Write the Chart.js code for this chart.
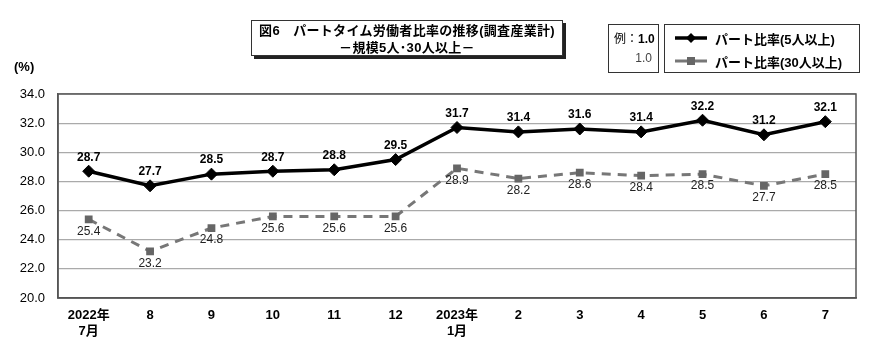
<!DOCTYPE html>
<html>
<head>
<meta charset="utf-8">
<script src="https://cdn.jsdelivr.net/npm/chart.js@4"></script>
<style>
  body { margin: 0; background: #fff; }
  #wrap { position: relative; width: 890px; height: 362px; font-family: "Liberation Sans", Arial, "Noto Sans CJK JP", sans-serif; }
  canvas { position: absolute; left: 0; top: 0; }
  .box { position: absolute; border: 1px solid #333; background: #fff; color: #000; }
  #title { left: 251px; top: 20px; width: 312px; height: 36px; box-shadow: 3px 3px 0 #222;
    font-size: 13px; font-weight: bold; text-align: center; line-height: 17px; padding-top: 1px; box-sizing: border-box; letter-spacing: 0.3px; }
  #rei { left: 608px; top: 24px; width: 51px; height: 49px; font-size: 12px; box-sizing: border-box; }
  #legend { left: 664px; top: 24px; width: 196px; height: 49px; font-size: 13px; font-weight: bold; box-sizing: border-box; }
  .pct { position: absolute; left: 14px; top: 59px; font-size: 13px; font-weight: bold; }
</style>
</head>
<body>
<div id="wrap">
  <canvas id="grafico" width="890" height="362"></canvas>
  <div class="box" id="title">図6　パートタイム労働者比率の推移(調査産業計)<br>－規模5人･30人以上－</div>
  <div class="box" id="rei">
    <div style="position:absolute;left:5px;top:4px;">例：<b>1.0</b></div>
    <div style="position:absolute;right:6px;top:26px;color:#444;">1.0</div>
  </div>
  <div class="box" id="legend">
    <svg style="position:absolute;left:10px;top:5px" width="38" height="40">
      <line x1="0" y1="8" x2="32" y2="8" stroke="#000" stroke-width="3.5"/>
      <polygon points="16,3 21,8 16,13 11,8" fill="#000"/>
      <line x1="0" y1="31" x2="32" y2="31" stroke="#777" stroke-width="3"/>
      <rect x="12" y="27" width="8" height="8" fill="#666"/>
    </svg>
    <div style="position:absolute;left:50px;top:4px;">パート比率(5人以上)</div>
    <div style="position:absolute;left:50px;top:27px;">パート比率(30人以上)</div>
  </div>
  <div class="pct">(%)</div>
</div>
<script>
// データ
const meses = [["2022年", "7月"], "8", "9", "10", "11", "12", ["2023年", "1月"], "2", "3", "4", "5", "6", "7"];
const parte5 = [28.7, 27.7, 28.5, 28.7, 28.8, 29.5, 31.7, 31.4, 31.6, 31.4, 32.2, 31.2, 32.1];
const parte30 = [25.4, 23.2, 24.8, 25.6, 25.6, 25.6, 28.9, 28.2, 28.6, 28.4, 28.5, 27.7, 28.5];
const etiquetas = ["パート比率(5人以上)", "パート比率(30人以上)"];

// rótulos dos valores
const rotulos = {
  id: "rotulos",
  afterDatasetsDraw(chart) {
    const ctx = chart.ctx;
    ctx.save();
    ctx.textAlign = "center";
    chart.data.datasets.forEach((ds, i) => {
      const meta = chart.getDatasetMeta(i);
      meta.data.forEach((pt, j) => {
        if (i === 0) {
          ctx.font = "bold 12px 'Liberation Sans', Arial, sans-serif";
          ctx.fillStyle = "#000";
          ctx.textBaseline = "bottom";
          ctx.fillText(ds.data[j].toFixed(1), pt.x, pt.y - 8);
        } else {
          ctx.font = "12px 'Liberation Sans', Arial, sans-serif";
          ctx.fillStyle = "#222";
          ctx.textBaseline = "top";
          ctx.fillText(ds.data[j].toFixed(1), pt.x, pt.y + 6);
        }
      });
    });
    ctx.restore();
  }
};

const grafico = new Chart(document.getElementById("grafico"), {
  type: "line",
  data: {
    labels: meses,
    datasets: [
      {
        label: etiquetas[0],
        data: parte5,
        borderColor: "#000",
        backgroundColor: "#000",
        borderWidth: 3.5,
        pointStyle: "rectRot",
        pointRadius: 6,
        pointHoverRadius: 6,
        pointBorderWidth: 1,
        tension: 0,
      },
      {
        label: etiquetas[1],
        data: parte30,
        borderColor: "#777",
        backgroundColor: "#666",
        borderWidth: 3,
        borderDash: [9, 7],
        pointStyle: "rect",
        pointRadius: 5.5,
        pointHoverRadius: 5.5,
        pointBorderColor: "#666",
        pointBorderWidth: 0,
        tension: 0,
      },
    ],
  },
  options: {
    responsive: false,
    animation: false,
    layout: { padding: { left: 0, top: 94, right: 34, bottom: 0 } },
    plugins: { legend: { display: false }, tooltip: { enabled: false } },
    scales: {
      x: {
        offset: true,
        grid: { display: false, drawTicks: false },
        border: { color: "#555", width: 1.5 },
        ticks: {
          color: "#000",
          font: { size: 13, weight: "bold", family: "'Liberation Sans', Arial, 'Noto Sans CJK JP', sans-serif" },
          maxRotation: 0,
          autoSkip: false,
          padding: 10,
        },
        afterFit: (s) => { s.height = 64; },
      },
      y: {
        min: 20,
        max: 34,
        grid: { color: "#aaa", lineWidth: 1.2, drawTicks: false },
        border: { color: "#555", width: 1.5 },
        ticks: {
          stepSize: 2,
          color: "#000",
          padding: 13,
          font: { size: 13, family: "'Liberation Sans', Arial, sans-serif" },
          callback: (v) => v.toFixed(1),
        },
        afterFit: (s) => { s.width = 58; },
      },
    },
  },
  plugins: [
    rotulos,
    {
      id: "moldura",
      afterDraw(chart) {
        const { ctx, chartArea: a } = chart;
        ctx.save();
        ctx.strokeStyle = "#555";
        ctx.lineWidth = 1.5;
        ctx.strokeRect(a.left, a.top, a.right - a.left, a.bottom - a.top);
        ctx.restore();
      },
    },
  ],
});
</script>
</body>
</html>
